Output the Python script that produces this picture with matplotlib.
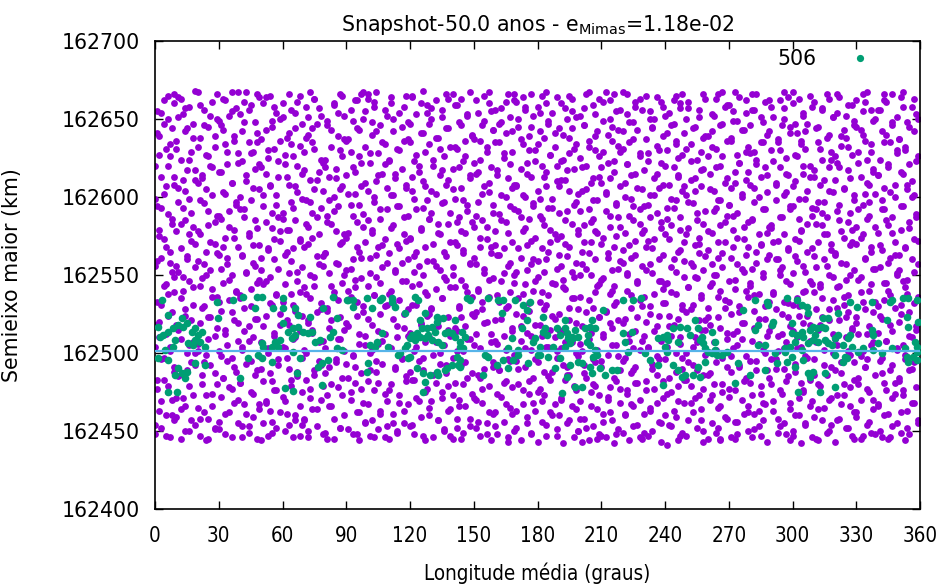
import matplotlib.pyplot as plt
import numpy as np
from matplotlib.ticker import FormatStrFormatter
from matplotlib.lines import Line2D

plt.rcParams['font.family'] = ['DejaVu Sans']
plt.rcParams['mathtext.default'] = 'regular'

# particulas (roxo): uma string por faixa de 10 graus, "dlon:da"
# lon = 10*faixa + dlon (graus), a = 162400 + da (km)
roxo_faixas = [
    "0:48 3:52 7:46 9:57 2:63 5:60 8:70 1:77 4:83 6:79 9:91 3:96 0:104 7:101 5:112 2:120 8:126 1:133 6:138 4:143 9:149 0:156 3:161 7:158 5:168 2:175 8:183 6:189 1:194 4:202 9:208 3:213 0:220 7:226 5:231 2:239 8:244 6:250 1:255 4:262 9:266",
    "2:45 6:50 9:54 0:59 4:66 8:73 3:71 1:85 5:89 7:94 9:100 2:109 6:105 0:118 4:124 8:131 3:140 6:146 1:152 9:155 5:160 2:167 7:172 0:178 4:185 8:181 3:193 6:199 1:206 9:211 5:217 2:224 7:229 0:236 4:242 8:247 3:253 6:258 1:264 9:268",
    "1:47 4:44 8:51 5:58 0:65 3:62 7:74 9:80 2:86 6:92 4:99 0:106 8:111 1:119 5:123 3:130 9:136 7:141 2:148 6:153 0:159 4:165 8:170 1:176 5:182 9:188 3:196 7:201 0:209 2:214 6:220 4:227 8:232 1:238 5:245 9:250 3:256 7:261 0:267",
    "0:51 6:46 9:55 3:61 7:68 1:72 5:78 2:84 8:88 4:95 0:101 6:97 9:108 3:115 7:121 1:127 5:134 8:139 2:145 6:150 4:157 0:163 9:168 3:174 7:179 1:186 5:191 8:197 2:203 6:209 0:216 4:221 9:228 3:234 7:239 1:246 5:252 8:257 2:263 6:267",
    "4:49 8:45 1:53 6:59 2:67 9:64 5:75 0:81 7:86 3:93 9:98 1:104 6:110 4:117 8:122 2:129 0:135 5:141 9:147 3:152 7:156 1:162 6:169 4:175 8:180 2:187 0:192 5:198 9:205 3:210 7:218 1:223 6:229 4:235 8:241 2:248 0:253 5:259 9:264 3:267",
    "3:47 7:52 0:44 5:56 9:62 2:69 6:76 1:82 4:87 8:92 3:100 0:107 6:113 9:118 2:124 5:131 7:137 1:144 4:149 8:154 0:161 3:166 6:173 9:178 2:184 5:190 7:195 1:201 4:207 8:213 0:219 3:225 6:231 9:236 2:243 5:249 7:254 1:260 4:265",
    "1:50 5:46 9:54 2:61 6:57 8:66 0:72 4:79 7:85 3:90 9:97 1:103 5:109 8:114 2:121 6:127 0:133 4:138 7:146 3:151 9:155 1:163 5:167 8:172 2:179 6:185 0:190 4:197 7:203 3:208 9:215 1:221 5:226 8:233 2:238 6:244 0:251 4:256 7:261 3:266",
    "2:46 6:53 9:48 0:58 4:64 8:70 3:77 1:83 5:89 7:95 0:102 9:108 4:113 2:119 6:126 8:132 1:138 5:143 3:150 7:157 9:162 0:168 4:174 2:181 6:187 8:193 1:198 5:205 3:211 7:216 9:222 0:229 4:235 2:240 6:247 8:252 1:258 5:263 3:267",
    "0:49 4:45 7:52 9:60 3:66 1:73 6:78 8:84 2:91 5:96 0:103 7:109 9:115 3:121 1:127 6:134 4:139 8:145 2:151 5:158 0:164 7:170 9:176 3:183 1:188 6:194 4:200 8:207 2:213 5:218 0:224 7:230 9:237 3:243 1:249 6:254 4:260 8:265",
    "3:48 6:44 9:55 1:51 5:62 8:68 2:75 4:81 7:87 0:93 3:99 6:106 9:111 1:117 5:124 8:130 2:136 4:142 7:148 0:153 3:160 6:165 9:171 1:177 5:184 8:189 2:195 4:202 7:207 0:214 3:219 6:226 9:232 1:237 5:244 8:250 2:256 4:262 7:266",
    "1:47 5:51 8:46 2:57 6:63 9:69 3:76 0:82 4:88 7:93 1:100 5:106 8:112 2:118 6:125 9:131 3:137 0:143 4:149 7:155 1:161 5:168 8:173 2:179 6:186 9:192 3:197 0:204 4:210 7:215 1:222 5:228 8:234 2:240 6:246 9:252 3:258 0:263 4:267",
    "4:50 0:45 7:55 2:61 9:67 5:73 1:80 8:85 3:91 6:97 0:104 4:110 7:116 2:122 9:128 5:134 1:140 8:146 3:152 6:158 0:164 4:170 7:176 2:182 9:188 5:194 1:201 8:206 3:212 6:218 0:224 4:231 7:236 2:242 9:248 5:254 1:260 8:265",
    "2:48 7:44 0:53 5:59 9:65 3:71 8:77 1:83 6:89 4:95 2:101 7:107 0:113 5:119 9:125 3:131 8:137 1:143 6:150 4:156 2:162 7:168 0:174 5:180 9:186 3:192 8:198 1:204 6:210 4:216 2:223 7:229 0:235 5:241 9:247 3:253 8:259 1:264 6:268",
    "1:46 6:51 9:47 3:57 8:63 0:69 5:75 2:81 7:87 4:93 1:99 6:105 9:111 3:117 8:123 0:129 5:135 2:141 7:147 4:153 1:159 6:165 9:171 3:177 8:183 0:190 5:196 2:202 7:208 4:214 1:220 6:226 9:232 3:238 8:244 0:250 5:256 2:262 7:266",
    "0:45 5:49 8:53 2:58 6:66 3:70 9:74 1:81 7:84 4:92 0:97 5:101 8:109 2:114 6:117 9:125 3:130 7:139 1:142 4:147 0:155 8:158 5:166 2:169 6:177 9:184 3:187 7:195 1:199 4:206 8:214 0:218 5:223 2:231 6:236 9:240 3:248 7:253 1:259 4:263 8:267",
    "3:47 8:44 1:52 6:55 9:61 4:68 0:71 7:79 2:86 5:90 9:94 3:103 8:107 1:112 6:120 0:124 4:128 7:136 2:141 9:148 5:151 1:157 8:164 3:168 6:173 0:181 4:185 9:190 2:197 7:203 5:207 1:215 8:219 3:224 6:232 0:237 9:243 4:246 2:254 7:260 5:265",
    "1:48 6:43 9:50 4:56 0:62 7:65 3:72 8:78 5:82 2:89 6:96 9:99 1:106 4:111 8:116 0:121 5:129 2:133 7:139 3:146 9:150 6:156 1:163 4:167 8:171 0:178 5:184 2:189 7:194 3:201 9:208 6:212 1:217 4:225 8:229 0:235 5:241 2:247 7:251 3:257 9:262 6:266",
    "2:44 7:48 0:52 5:59 9:63 3:67 6:74 1:80 8:84 4:91 0:95 7:102 2:108 5:113 9:118 3:124 6:127 1:135 8:140 4:144 0:152 7:157 2:161 5:169 9:174 3:178 6:186 1:191 8:196 4:200 0:207 7:213 2:218 5:222 9:230 3:234 6:239 1:245 8:252 4:256 0:261 7:266",
    "0:43 4:47 9:51 2:56 6:62 8:67 3:73 1:77 5:85 7:88 0:94 9:101 4:104 2:111 6:115 8:122 3:128 1:133 5:137 7:145 0:149 9:154 4:160 2:167 6:171 8:176 3:182 1:188 5:193 7:199 0:204 9:210 4:216 2:220 6:227 8:232 3:238 1:242 5:249 7:254 0:258 9:264 4:267",
    "7:46 2:42 9:50 4:55 0:60 6:66 1:70 8:76 3:83 5:86 4:91 9:98 1:103 6:107 2:114 8:119 0:125 5:129 7:135 3:141 2:147 6:152 8:158 0:163 5:168 1:175 9:179 3:185 4:191 7:195 9:202 0:207 3:211 7:218 1:223 5:228 8:234 2:240 6:244 4:250 6:255 1:260 5:265",
    "4:44 9:48 1:43 6:53 2:58 8:64 0:69 5:75 7:79 3:84 2:92 6:96 8:102 0:106 5:113 1:117 9:123 3:126 4:134 7:139 9:144 0:150 3:154 7:160 1:165 5:171 8:177 2:182 6:186 4:192 6:198 1:204 5:209 9:213 3:220 0:225 7:230 4:236 8:242 2:246 7:253 2:257 9:263 4:267",
    "2:46 6:42 8:51 0:47 5:57 1:61 9:68 3:72 4:78 7:82 9:89 0:95 3:99 7:105 1:110 5:116 8:121 2:127 6:131 4:138 6:143 1:148 5:153 9:159 3:164 0:170 7:175 4:181 8:187 2:191 7:196 2:203 9:207 4:212 0:219 6:223 1:229 8:233 3:240 5:245 4:250 9:256 1:261 6:266",
    "9:45 0:49 3:44 7:54 1:60 5:66 8:70 2:76 6:81 4:87 6:91 1:97 5:103 9:108 3:112 0:119 7:123 4:129 8:134 2:140 7:146 2:150 9:156 4:161 0:166 6:172 1:177 8:183 3:188 5:194 4:199 9:205 1:209 6:215 2:221 8:226 0:231 5:237 7:243 3:248 2:253 6:258 8:263 0:267",
    "2:47 8:43 4:50 7:56 0:61 3:65 9:71 5:77 1:82 6:86 4:93 6:98 2:104 8:108 5:114 1:120 7:124 3:130 0:136 9:141 7:146 4:151 3:157 9:163 1:168 5:173 0:179 8:184 6:190 2:195 3:201 7:206 5:212 0:217 8:222 2:228 6:233 9:239 4:244 5:250 3:255 8:261 1:265",
    "6:44 1:41 8:49 3:53 5:59 4:63 9:68 1:74 6:79 2:84 8:90 0:96 5:100 7:106 3:111 2:117 6:122 8:128 0:132 5:138 1:145 9:149 3:155 4:160 7:166 9:171 0:176 3:182 7:187 1:193 5:198 8:204 2:208 6:214 4:219 6:225 1:230 5:236 9:241 3:246 0:252 7:257 4:262 8:266",
    "8:43 0:47 5:52 7:57 3:62 2:68 6:73 8:77 0:83 5:89 1:94 9:99 3:104 4:110 7:115 9:121 0:126 3:131 7:137 1:142 5:148 8:153 2:158 6:164 4:169 6:174 1:180 5:185 9:191 3:196 0:201 7:207 4:212 8:218 2:223 7:229 2:234 9:239 4:245 0:250 6:256 1:261 8:266",
    "6:45 4:49 6:44 2:55 8:59 5:65 1:70 7:75 3:80 0:86 9:91 7:97 4:102 3:107 9:113 1:118 5:123 0:129 8:134 6:140 2:145 3:150 7:155 5:161 0:166 8:171 2:177 6:182 9:188 4:193 5:198 3:204 8:209 1:215 6:220 0:226 4:231 9:236 2:242 7:247 2:253 8:258 4:263 7:267",
    "1:46 9:50 3:45 4:56 7:61 9:66 0:72 3:76 7:82 1:88 5:92 8:98 2:103 6:109 4:114 6:119 1:125 5:130 9:136 3:141 0:146 7:152 4:157 8:163 2:168 7:173 2:179 9:184 4:190 0:195 6:200 1:206 8:211 3:216 5:222 4:227 9:232 1:238 6:243 2:249 8:254 0:259 5:264",
    "5:47 8:43 2:51 6:57 4:63 6:68 1:73 5:79 9:84 3:89 0:95 7:100 4:106 8:111 2:116 7:122 2:127 9:133 4:138 0:143 6:149 1:154 8:160 3:165 5:170 4:176 9:181 1:186 6:192 2:197 8:203 0:208 5:213 7:219 3:224 2:229 6:235 8:240 0:246 5:251 1:256 9:262 3:266",
    "9:44 7:48 4:53 3:58 9:64 1:69 5:74 0:80 8:85 6:90 2:96 3:101 7:107 5:112 0:117 8:123 2:128 6:133 1:139 9:144 4:150 5:155 3:160 8:166 1:171 6:176 0:182 4:187 9:192 2:198 7:203 2:209 8:214 4:219 7:225 0:230 3:235 9:241 5:246 1:251 6:257 4:262 6:267",
    "9:46 4:42 0:50 6:55 1:60 8:66 3:71 5:76 4:81 9:87 1:93 6:98 2:103 8:108 0:114 5:119 7:124 3:130 2:135 6:140 8:146 0:151 5:156 1:162 9:167 3:172 4:178 7:183 9:188 0:194 3:199 7:204 1:210 5:215 8:220 2:226 6:231 4:236 6:242 1:247 5:252 9:258 3:263 0:267",
    "1:45 6:49 2:44 8:54 0:59 5:65 7:70 3:75 2:80 6:86 8:91 0:96 5:102 1:107 9:112 3:118 4:123 7:128 9:134 0:139 3:144 7:150 1:155 5:160 8:166 2:171 6:176 4:182 6:187 1:192 5:197 9:203 3:208 0:213 7:219 4:224 8:229 2:235 7:240 2:245 9:251 4:256 0:261 6:266",
    "8:47 0:43 5:52 1:57 9:62 3:67 4:73 7:78 9:83 0:89 3:94 7:99 1:105 5:110 8:115 2:121 6:126 4:131 6:137 1:142 5:147 9:153 3:158 0:163 7:169 4:174 8:179 2:185 7:190 2:195 9:201 4:206 0:211 6:217 1:222 8:227 3:233 5:238 4:243 9:249 1:254 6:259 2:264",
    "2:45 3:47 7:49 5:54 0:59 8:64 2:70 6:75 1:80 9:86 4:91 5:96 3:101 8:107 1:112 6:117 0:123 4:128 9:133 2:139 7:144 2:149 8:154 4:160 7:165 0:170 3:176 9:181 5:186 1:192 6:197 4:202 6:208 2:213 8:218 5:224 1:229 7:234 3:240 0:245 9:250 7:256 4:261 3:266",
    "6:46 1:50 5:45 9:55 3:60 0:66 7:71 4:76 8:81 2:87 7:92 2:97 9:103 4:108 0:113 6:118 1:124 8:129 3:134 5:140 4:145 9:150 1:155 6:161 2:166 8:171 0:177 5:182 7:187 3:192 2:198 6:203 8:208 0:214 5:219 1:224 9:230 3:235 4:240 7:246 9:251 0:256 3:262 7:266",
    "3:44 5:48 4:52 9:57 1:62 6:68 2:73 8:78 0:84 5:89 7:94 3:99 2:105 6:110 8:115 0:120 5:126 1:131 9:136 3:142 4:147 7:152 9:157 0:163 3:168 7:173 1:179 5:184 8:189 2:194 6:200 4:205 6:210 1:216 5:221 9:226 3:232 0:237 7:242 4:248 8:253 2:258 7:263 2:267",
]

# segunda leva de particulas (roxo), mesmo formato
roxo_faixas_2 = [
    "5:47 0:54 8:60 3:69 6:75 1:83 9:88 4:97 7:104 2:110 0:118 6:124 3:131 9:139 5:144 8:152 1:159 7:165 4:173 2:179 8:186 3:193 0:199 5:207 9:213 6:220 2:227 7:234 1:241 4:247 3:254 9:260 6:265",
    "4:50 7:57 2:64 0:71 6:79 3:86 9:92 5:100 8:107 1:115 7:121 4:128 2:135 8:142 3:149 0:156 5:162 9:170 6:176 2:183 7:190 1:197 4:204 3:211 9:217 6:224 0:231 8:238 5:244 1:251 4:257 2:263",
    "5:45 8:52 1:58 7:66 4:73 2:80 8:87 3:94 0:101 5:109 9:116 6:123 2:129 7:136 1:143 4:150 3:157 9:164 6:171 0:178 8:184 5:191 1:198 4:205 2:212 7:219 5:226 0:232 8:239 3:246 6:252 1:259 9:266",
    "3:48 0:56 5:62 9:70 6:77 2:84 7:91 1:98 4:105 3:112 9:119 6:126 0:133 8:140 5:147 1:154 4:161 2:168 7:174 5:181 0:188 8:195 3:202 6:209 1:216 9:222 4:229 7:236 2:243 0:249 6:255 3:262 9:267",
    "1:46 4:53 3:61 9:67 6:74 0:81 8:89 5:95 1:102 4:108 2:114 7:122 5:130 0:137 8:145 3:151 6:158 1:163 9:169 4:177 7:185 2:192 0:200 6:206 3:214 9:221 5:228 8:235 1:242 7:248 4:256 2:261 8:266",
    "5:49 1:55 4:63 2:68 7:76 5:82 0:90 8:96 3:103 6:111 1:117 9:125 4:132 7:138 2:146 0:153 6:160 3:167 9:172 5:180 8:187 1:194 7:201 4:208 2:215 8:223 3:230 0:237 5:245 9:250 6:258 2:264",
    "8:47 3:54 6:60 1:69 9:75 4:83 7:88 2:97 0:104 6:110 3:118 9:124 5:131 8:139 1:144 7:152 4:159 2:165 8:173 3:179 0:186 5:193 9:199 6:207 2:213 7:220 1:227 4:234 3:241 9:247 6:254 0:260 8:265",
    "2:50 0:57 6:64 3:71 9:79 5:86 8:92 1:100 7:107 4:115 2:121 8:128 3:135 0:142 5:149 9:156 6:162 2:170 7:176 1:183 4:190 3:197 9:204 6:211 0:217 8:224 5:231 1:238 4:244 2:251 7:257 5:263",
    "1:45 7:52 4:58 2:66 8:73 3:80 0:87 5:94 9:101 6:109 2:116 7:123 1:129 4:136 3:143 9:150 6:157 0:164 8:171 5:178 1:184 4:191 2:198 7:205 5:212 0:219 8:226 3:232 6:239 1:246 9:252 4:259 7:266",
    "5:48 9:56 6:62 2:70 7:77 1:84 4:91 3:98 9:105 6:112 0:119 8:126 5:133 1:140 4:147 2:154 7:161 5:168 0:174 8:181 3:188 6:195 1:202 9:209 4:216 7:222 2:229 0:236 6:243 3:249 9:255 5:262 8:267",
    "3:46 9:53 6:61 0:67 8:74 5:81 1:89 4:95 2:102 7:108 5:114 0:122 8:130 3:137 6:145 1:151 9:158 4:163 7:169 2:177 0:185 6:192 3:200 9:206 5:214 8:221 1:228 7:235 4:242 2:248 8:256 3:261 0:266",
    "4:49 2:55 7:63 5:68 0:76 8:82 3:90 6:96 1:103 9:111 4:117 7:125 2:132 0:138 6:146 3:153 9:160 5:167 8:172 1:180 7:187 4:194 2:201 8:208 3:215 0:223 5:230 9:237 6:245 2:250 7:258 1:264",
    "6:47 1:54 9:60 4:69 7:75 2:83 0:88 6:97 3:104 9:110 5:118 8:124 1:131 7:139 4:144 2:152 8:159 3:165 0:173 5:179 9:186 6:193 2:199 7:207 1:213 4:220 3:227 9:234 6:241 0:247 8:254 5:260 1:265",
    "6:50 3:57 9:64 5:71 8:79 1:86 7:92 4:100 2:107 8:115 3:121 0:128 5:135 9:142 6:149 2:156 7:162 1:170 4:176 3:183 9:190 6:197 0:204 8:211 5:217 1:224 4:231 2:238 7:244 5:251 0:257 8:263",
    "4:45 2:52 8:58 3:66 0:73 5:80 9:87 6:94 2:101 7:109 1:116 4:123 3:129 9:136 6:143 0:150 8:157 5:164 1:171 4:178 2:184 7:191 5:198 0:205 8:212 3:219 6:226 1:232 9:239 4:246 7:252 2:259 0:266",
    "6:48 2:56 7:62 1:70 4:77 3:84 9:91 6:98 0:105 8:112 5:119 1:126 4:133 2:140 7:147 5:154 0:161 8:168 3:174 6:181 1:188 9:195 4:202 7:209 2:216 0:222 6:229 3:236 9:243 5:249 8:255 1:262 7:267",
    "6:46 0:53 8:61 5:67 1:74 4:81 2:89 7:95 5:102 0:108 8:114 3:122 6:130 1:137 9:145 4:151 7:158 2:163 0:169 6:177 3:185 9:192 5:200 8:206 1:214 7:221 4:228 2:235 8:242 3:248 0:256 5:261 9:266",
    "7:49 5:55 0:63 8:68 3:76 6:82 1:90 9:96 4:103 7:111 2:117 0:125 6:132 3:138 9:146 5:153 8:160 1:167 7:172 4:180 2:187 8:194 3:201 0:208 5:215 9:223 6:230 2:237 7:245 1:250 4:258 3:264",
    "9:47 4:54 7:60 2:69 0:75 6:83 3:88 9:97 5:104 8:110 1:118 7:124 4:131 2:139 8:144 3:152 0:159 5:165 9:173 6:179 2:186 7:193 1:199 4:207 3:213 9:220 6:227 0:234 8:241 5:247 1:254 4:260 2:265",
    "9:50 5:57 8:64 1:71 7:79 4:86 2:92 8:100 3:107 0:115 5:121 9:128 6:135 2:142 7:149 1:156 4:162 3:170 9:176 6:183 0:190 8:197 5:204 1:211 4:217 2:224 7:231 5:238 0:244 8:251 3:257 6:263",
    "8:45 3:52 0:58 5:66 9:73 6:80 2:87 7:94 1:101 4:109 3:116 9:123 6:129 0:136 8:143 5:150 1:157 4:164 2:171 7:178 5:184 0:191 8:198 3:205 6:212 1:219 9:226 4:232 7:239 2:246 0:252 6:259 3:266",
    "7:48 1:56 4:62 3:70 9:77 6:84 0:91 8:98 5:105 1:112 4:119 2:126 7:133 5:140 0:147 8:154 3:161 6:168 1:174 9:181 4:188 7:195 2:202 0:209 6:216 3:222 9:229 5:236 8:243 1:249 7:255 4:262 2:267",
    "8:46 5:53 1:61 4:67 2:74 7:81 5:89 0:95 8:102 3:108 6:114 1:122 9:130 4:137 7:145 2:151 0:158 6:163 3:169 9:177 5:185 8:192 1:200 7:206 4:214 2:221 8:228 3:235 0:242 5:248 9:256 6:261 2:266",
    "0:49 8:55 3:63 6:68 1:76 9:82 4:90 7:96 2:103 0:111 6:117 3:125 9:132 5:138 8:146 1:153 7:160 4:167 2:172 8:180 3:187 0:194 5:201 9:208 6:215 2:223 7:230 1:237 4:245 3:250 9:258 6:264",
    "7:47 2:54 0:60 6:69 3:75 9:83 5:88 8:97 1:104 7:110 4:118 2:124 8:131 3:139 0:144 5:152 9:159 6:165 2:173 7:179 1:186 4:193 3:199 9:207 6:213 0:220 8:227 5:234 1:241 4:247 2:254 7:260 5:265",
    "8:50 1:57 7:64 4:71 2:79 8:86 3:92 0:100 5:107 9:115 6:121 2:128 7:135 1:142 4:149 3:156 9:162 6:170 0:176 8:183 5:190 1:197 4:204 2:211 7:217 5:224 0:231 8:238 3:244 6:251 1:257 9:263",
    "0:45 5:52 9:58 6:66 2:73 7:80 1:87 4:94 3:101 9:109 6:116 0:123 8:129 5:136 1:143 4:150 2:157 7:164 5:171 0:178 8:184 3:191 6:198 1:205 9:212 4:219 7:226 2:232 0:239 6:246 3:252 9:259 5:266",
    "4:48 3:56 9:62 6:70 0:77 8:84 5:91 1:98 4:105 2:112 7:119 5:126 0:133 8:140 3:147 6:154 1:161 9:168 4:174 7:181 2:188 0:195 6:202 3:209 9:216 5:222 8:229 1:236 7:243 4:249 2:255 8:262 3:267",
    "1:46 4:53 2:61 7:67 5:74 0:81 8:89 3:95 6:102 1:108 9:114 4:122 7:130 2:137 0:145 6:151 3:158 9:163 5:169 8:177 1:185 7:192 4:200 2:206 8:214 3:221 0:228 5:235 9:242 6:248 2:256 7:261 1:266",
    "3:49 6:55 1:63 9:68 4:76 7:82 2:90 0:96 6:103 3:111 9:117 5:125 8:132 1:138 7:146 4:153 2:160 8:167 3:172 0:180 5:187 9:194 6:201 2:208 7:215 1:223 4:230 3:237 9:245 6:250 0:258 8:264",
    "0:47 6:54 3:60 9:69 5:75 8:83 1:88 7:97 4:104 2:110 8:118 3:124 0:131 5:139 9:144 6:152 2:159 7:165 1:173 4:179 3:186 9:193 6:199 0:207 8:213 5:220 1:227 4:234 2:241 7:247 5:254 0:260 8:265",
    "7:50 4:57 2:64 8:71 3:79 0:86 5:92 9:100 6:107 2:115 7:121 1:128 4:135 3:142 9:149 6:156 0:162 8:170 5:176 1:183 4:190 2:197 7:204 5:211 0:217 8:224 3:231 6:238 1:244 9:251 4:257 7:263",
    "9:45 6:52 2:58 7:66 1:73 4:80 3:87 9:94 6:101 0:109 8:116 5:123 1:129 4:136 2:143 7:150 5:157 0:164 8:171 3:178 6:184 1:191 9:198 4:205 7:212 2:219 0:226 6:232 3:239 9:246 5:252 8:259 1:266",
    "9:48 6:56 0:62 8:70 5:77 1:84 4:91 2:98 7:105 5:112 0:119 8:126 3:133 6:140 1:147 9:154 4:161 7:168 2:174 0:181 6:188 3:195 9:202 5:209 8:216 1:222 7:229 4:236 2:243 8:249 3:255 0:262 5:267",
    "2:46 7:53 5:61 0:67 8:74 3:81 6:89 1:95 9:102 4:108 7:114 2:122 0:130 6:137 3:145 9:151 5:158 8:163 1:169 7:177 4:185 2:192 8:200 3:206 0:214 5:221 9:228 6:235 2:242 7:248 1:256 4:261 3:266",
    "1:49 9:55 4:63 7:68 2:76 0:82 6:90 3:96 9:103 5:111 8:117 1:125 7:132 4:138 2:146 0:153 6:160 3:167 9:172 5:180 8:187 1:194 7:201 4:208 2:215 8:223 3:230 0:237 5:245 9:250 6:258 1:264",
]

# particulas do grupo 506 (verde): (longitude, semieixo - 162000)
verde = [
    (3.1, 534), (6.0, 524.4), (1.6, 516.9), (3.9, 511.5), (2.4, 510.5), (6.3, 513.7), (8.6, 515.8),
    (11.0, 518), (12.5, 522.2), (13.3, 516.9), (14.9, 519), (17.3, 513.7), (18.8, 515.8), (20.4, 511.5),
    (18.8, 508.3), (18.0, 505.1), (15.7, 506.2), (21.2, 507.3), (23.5, 504.1), (22.0, 513.7), (9.4, 508.3),
    (8.6, 504.1), (4.7, 501.9), (1.6, 496.6), (6.3, 495.5), (11.0, 490.2), (12.5, 487), (9.4, 485.9),
    (14.9, 488), (14.1, 483.8), (18.8, 493.4), (23.5, 492.3), (6.3, 475.2), (10.2, 475.2), (29.8, 522.2),
    (29.0, 532.9), (36.9, 534), (41.6, 536.1), (47.8, 536.1), (50.2, 536.1), (47.1, 528.6), (55.7, 528.6),
    (60.4, 535.1), (60.4, 528.6), (65.9, 528.6), (67.5, 524.4), (72.9, 523.3), (79.2, 528.6), (85.5, 522.2),
    (90.2, 534), (83.9, 536.1), (60.4, 519), (62.7, 513.7), (65.1, 515.8), (67.5, 516.9), (69.8, 513.7),
    (72.2, 512.6), (73.7, 513.7), (65.9, 511.5), (64.3, 509.4), (77.6, 508.3), (82.4, 510.5), (83.9, 513.7),
    (75.3, 507.3), (50.2, 506.2), (51.0, 504.1), (56.5, 507.3), (58.0, 504.1), (58.8, 508.3), (54.9, 504.1),
    (48.6, 498.7), (50.2, 496.6), (43.9, 496.6), (54.9, 494.5), (65.1, 500.9), (68.2, 496.6), (76.9, 491.2),
    (78.4, 493.4), (81.6, 495.5), (85.5, 503), (87.8, 501.9), (66.7, 487), (40.0, 483.8), (61.2, 477.4),
    (65.1, 475.7), (78.4, 479.5),
    (91.0, 534), (93.3, 534), (93.3, 529.7), (99.6, 535.1), (101.9, 528.6), (105.9, 534), (106.7, 535.5),
    (111.4, 535.1), (112.9, 529.7), (111.4, 532.9), (122.3, 536.1), (123.9, 534), (117.6, 525.4),
    (124.7, 521.2), (127.0, 525.4), (132.5, 523.3), (132.5, 520.1), (135.7, 522.2), (141.2, 521.2),
    (146.7, 535.1), (148.2, 534), (156.9, 535.1), (161.6, 534), (163.9, 534), (163.1, 525.4), (169.4, 534),
    (173.3, 530.8), (174.9, 527.6), (176.5, 532.9), (174.9, 521.2), (172.5, 515.8), (178.8, 509.4),
    (178.0, 507.3), (167.8, 509.4), (166.3, 503), (171.0, 501.9), (125.5, 515.8), (127.8, 515.8),
    (130.2, 516.9), (131.8, 513.7), (123.1, 512.6), (120.8, 511.5), (120.0, 509.4), (122.3, 508.3),
    (124.7, 510.5), (127.0, 509.4), (128.6, 511.5), (130.2, 508.3), (133.3, 507.3), (134.9, 505.1),
    (136.5, 512.6), (138.0, 513.7), (139.6, 512.6), (141.2, 510.5), (144.3, 513.7), (145.9, 510.5),
    (143.5, 507.3), (143.5, 504.1), (145.1, 503), (118.4, 505.1), (117.6, 503), (115.3, 499.8), (120.0, 497.7),
    (119.2, 496.6), (114.5, 498.7), (106.7, 512.6), (104.3, 507.3), (103.5, 504.1), (101.2, 505.1),
    (109.8, 504.1), (100.4, 493.4), (99.6, 488), (123.1, 490.2), (126.3, 487), (129.4, 485.9), (132.5, 488),
    (133.3, 485.9), (136.5, 489.1), (139.6, 492.3), (142.7, 492.3), (143.5, 495.5), (141.9, 497.7),
    (143.5, 491.2), (137.2, 490.2), (127.0, 481.6), (126.3, 475.2), (154.5, 485.9), (155.3, 498.7),
    (156.9, 497.7), (160.8, 492.3), (163.9, 495.5), (166.3, 490.2), (168.6, 495.5), (171.0, 498.7),
    (175.7, 493.4), (180.4, 498.7),
    (220.4, 534), (225.1, 534), (228.7, 535.1), (211.0, 527.6), (182.7, 523.3), (192.9, 521.2), (183.5, 515.8),
    (184.3, 511.5), (182.7, 513.7), (189.0, 515.8), (190.6, 511.5), (192.9, 515.8), (193.7, 512.6),
    (194.5, 509.4), (196.1, 510.5), (197.6, 514.7), (196.8, 509.4), (199.2, 510.5), (202.3, 515.8),
    (204.7, 516.9), (207.0, 515.8), (205.5, 521.2), (203.9, 511.5), (203.1, 507.3), (204.7, 505.1),
    (207.0, 501.9), (207.8, 498.7), (206.3, 497.7), (181.2, 504.1), (187.4, 504.1), (192.9, 504.1),
    (195.3, 506.2), (181.2, 498.7), (185.1, 497.7), (190.6, 496.6), (188.2, 490.2), (195.3, 492.3),
    (199.2, 494.5), (200.8, 493.4), (204.7, 491.2), (209.4, 490.2), (211.7, 485.9), (214.9, 489.1),
    (217.2, 489.1), (205.5, 487), (193.7, 484.8), (197.6, 478.4), (200.8, 478.4), (191.3, 474.1),
    (220.4, 512.6), (224.3, 513.7), (221.2, 507.3), (222.7, 500.9), (230.6, 499.8), (232.9, 495.5),
    (236.8, 509.4), (239.2, 510.5), (240.8, 511.5), (241.5, 508.3), (240.0, 504.1), (240.8, 500.9),
    (246.3, 507.3), (243.9, 515.8), (247.0, 516.9), (250.2, 515.8), (251.7, 511.5), (254.1, 521.2),
    (255.7, 515.8), (256.4, 508.3), (257.2, 510.5), (258.0, 506.2), (258.8, 503), (260.4, 500.9),
    (261.9, 499.8), (263.5, 501.9), (264.3, 498.7), (266.6, 498.7), (269.0, 500.9), (263.5, 507.3),
    (261.9, 513.7), (258.8, 494.5), (255.7, 491.2), (253.3, 485.9), (249.4, 485.9), (247.8, 484.8),
    (246.3, 489.1), (236.8, 492.3), (243.9, 492.3), (239.2, 479.5), (256.4, 484.8),
    (282.3, 534), (287.8, 532.9), (288.6, 530.8), (297.2, 535.1), (301.9, 534), (304.3, 530.8), (306.6, 529.7),
    (276.8, 527.6), (282.3, 514.7), (283.9, 518), (290.9, 520.1), (290.2, 518), (299.6, 519), (307.4, 525.4),
    (314.5, 522.2), (316.8, 522.2), (321.5, 525.4), (327.0, 532.9), (330.2, 529.7), (337.2, 532.9),
    (346.6, 534), (345.8, 532.9), (352.1, 535.1), (354.5, 535.1), (358.4, 534), (344.3, 521.2), (353.7, 523.3),
    (354.5, 516.9), (359.2, 520.1), (337.2, 514.7), (338.0, 511.5), (299.6, 512.6), (301.9, 511.5),
    (304.3, 513.7), (305.1, 510.5), (308.2, 514.7), (309.8, 516.9), (311.3, 515.8), (313.7, 516.9),
    (315.3, 515.8), (310.6, 511.5), (309.8, 508.3), (307.4, 506.2), (312.1, 507.3), (315.3, 508.3),
    (316.8, 506.2), (318.4, 505.1), (320.0, 509.4), (321.5, 511.5), (323.9, 505.1), (326.2, 509.4),
    (327.0, 511.5), (327.8, 504.1), (301.1, 507.3), (298.8, 504.1), (296.4, 503), (283.9, 505.1), (287.0, 505.1),
    (291.7, 499.8), (296.4, 500.9), (304.3, 501.9), (320.0, 498.7), (324.7, 497.7), (325.5, 496.6),
    (323.9, 494.5), (330.9, 500.9), (333.3, 503), (340.4, 506.2), (338.0, 501.9), (341.9, 499.8),
    (346.6, 503), (352.9, 503), (357.6, 507.3), (358.4, 504.1), (353.7, 497.7), (356.8, 497.7), (358.4, 495.5),
    (358.4, 500.9), (354.5, 494.5), (299.6, 497.7), (297.2, 494.5), (301.1, 491.2), (305.1, 495.5),
    (292.5, 493.4), (274.5, 493.4), (280.0, 485.9), (287.0, 489.1), (272.9, 480.6), (307.4, 487), (309.8, 488),
    (315.3, 487), (308.2, 484.8), (312.9, 475.2), (302.7, 475.2), (320.0, 478.4),
]

a_ressonancia = 162501.0  # semieixo da ressonancia (km)


def ler_faixas(faixas, base):
    lon, a = [], []
    for i, faixa in enumerate(faixas):
        for tok in faixa.split():
            d, y = tok.split(':')
            lon.append(10 * i + int(d))
            a.append(base + int(y))
    return lon, a


lon1, a1 = ler_faixas(roxo_faixas, 162400)
lon2, a2 = ler_faixas(roxo_faixas_2, 162400)
roxo_lon = np.array(lon1 + lon2, float)
roxo_a = np.array(a1 + a2, float)
verde_lon = np.array([p[0] for p in verde])
verde_a = np.array([p[1] for p in verde]) + 162000

fig = plt.figure(figsize=(9.47, 5.84), dpi=100)
ax = fig.add_axes([155 / 947, 1 - 509 / 584, 765 / 947, 468 / 584])

ax.scatter(roxo_lon, roxo_a, s=24, color='#9400d3', linewidths=0, zorder=2)
ax.scatter(verde_lon, verde_a, s=30, color='#009e73', linewidths=0, zorder=3)
ax.axhline(a_ressonancia, color='#56b4e9', lw=1.6, zorder=4)

ax.set_xlim(0, 360)
ax.set_ylim(162400, 162700)
ax.set_xticks(np.arange(0, 361, 30))
ax.set_yticks(np.arange(162400, 162701, 50))
ax.yaxis.set_major_formatter(FormatStrFormatter('%d'))
ax.tick_params(direction='in', length=6, width=1, top=True, right=True, labelsize=14.8)
ax.tick_params(axis='x', pad=12)
ax.tick_params(axis='y', pad=11)
for lab in ax.get_xticklabels():
    lab.set_fontstretch('condensed')
for s in ax.spines.values():
    s.set_linewidth(1.2)

ax.set_xlabel('Longitude média (graus)', fontsize=14.8, fontstretch='condensed', labelpad=12)
ax.set_ylabel('Semieixo maior (km)', fontsize=14.8)
ax.yaxis.set_label_coords(-0.174, 0.5)
ax.set_title('Snapshot-50.0 anos - e$_{Mimas}$=1.18e-02', fontsize=14.8, pad=7)

h = Line2D([], [], ls='none', marker='o', markersize=5.2, color='#009e73', markeredgewidth=0)
ax.legend([h], ['506'], loc='upper right', bbox_to_anchor=(0.9555, 0.983), frameon=False,
          markerfirst=False, handlelength=2.5, handletextpad=0.9, borderpad=0, borderaxespad=0,
          fontsize=14.8)

fig.savefig('out.png', dpi=100)
